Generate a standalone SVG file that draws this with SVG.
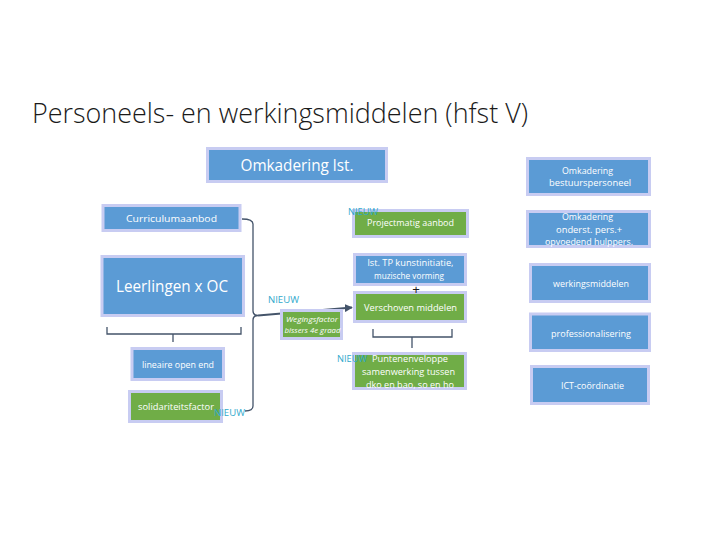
<svg xmlns="http://www.w3.org/2000/svg" width="720" height="540" viewBox="0 0 720 540">
<defs>
<marker id="arr" viewBox="0 0 10 10" refX="9" refY="5" markerWidth="4" markerHeight="4" orient="auto" markerUnits="strokeWidth">
<path d="M0,0 L10,5 L0,10 z" fill="#44546a"/>
</marker>
<style>
.b{fill:#5b9bd5;stroke:#c8ccf2;stroke-width:3}
.g{fill:#70ad47;stroke:#c8ccf2;stroke-width:3}
.t{font-family:"Open Sans","Noto Sans",sans-serif;fill:#ffffff;text-anchor:middle}
.s{font-size:9.5px}
.m{font-size:16px}
.n{font-family:"Open Sans","Noto Sans",sans-serif;font-size:9px;fill:#2fa9cc}
.c{fill:none;stroke:#44546a;stroke-width:1.3}
</style>
</defs>
<rect width="720" height="540" fill="#ffffff"/>
<g id="title">
<text x="32" y="123" font-family="Open Sans, Noto Sans, sans-serif" font-size="27" font-weight="300" fill="#1a1a1a" textLength="496" lengthAdjust="spacingAndGlyphs">Personeels- en werkingsmiddelen (hfst V)</text>
</g>
<g id="connectors">
<path class="c" d="M242,219 Q253,219 253,224 V311 Q253,315.5 258,315.5 Q253,315.5 253,320 V406 Q253,411 245,411"/>
<line x1="258" y1="315.5" x2="352" y2="307.5" stroke="#44546a" stroke-width="2" marker-end="url(#arr)"/>
<path class="c" d="M107,327 V334 H241 V327 M173,334 V342"/>
<path class="c" d="M373,329 V337 H452 V329 M412,337 V348"/>
</g>
<g id="omkadering-lst">
<rect class="b" x="207.5" y="148.5" width="179" height="33"/>
<text class="t m" x="297" y="171" textLength="113" lengthAdjust="spacingAndGlyphs">Omkadering lst.</text>
</g>
<g id="curriculumaanbod">
<rect class="b" x="103" y="205.5" width="137" height="25"/>
<text class="t s" x="171.5" y="221.5" textLength="91" lengthAdjust="spacingAndGlyphs">Curriculumaanbod</text>
</g>
<g id="leerlingen">
<rect class="b" x="102" y="256.5" width="141.5" height="59"/>
<text class="t m" x="172" y="292" textLength="112" lengthAdjust="spacingAndGlyphs">Leerlingen x OC</text>
</g>
<g id="lineaire">
<rect class="b" x="132" y="348.5" width="91.5" height="31"/>
<text class="t s" x="178" y="367.5" textLength="72" lengthAdjust="spacingAndGlyphs">lineaire open end</text>
</g>
<g id="solidariteitsfactor">
<rect class="g" x="129.5" y="391.5" width="92" height="30"/>
<text class="t s" x="176" y="410" textLength="76" lengthAdjust="spacingAndGlyphs">solidariteitsfactor</text>
</g>
<g id="wegingsfactor">
<rect class="g" x="281.5" y="310.5" width="60" height="28"/>
<text class="t" x="312" y="322" font-size="8" font-style="italic" textLength="52" lengthAdjust="spacingAndGlyphs">Wegingsfactor</text>
<text class="t" x="312.5" y="332.5" font-size="8" font-style="italic" textLength="56" lengthAdjust="spacingAndGlyphs">bissers 4e graad</text>
</g>
<g id="projectmatig">
<rect class="g" x="353.5" y="210.5" width="114" height="26"/>
<text class="t s" x="410.5" y="226" textLength="87" lengthAdjust="spacingAndGlyphs">Projectmatig aanbod</text>
</g>
<g id="kunstinitiatie">
<rect class="b" x="354.5" y="254.5" width="111" height="30"/>
<text class="t s" x="410.5" y="266" textLength="86" lengthAdjust="spacingAndGlyphs">lst. TP kunstinitiatie,</text>
<text class="t s" x="409" y="278.5" textLength="70" lengthAdjust="spacingAndGlyphs">muzische vorming</text>
</g>
<g id="verschoven">
<rect class="g" x="354.5" y="292.5" width="111" height="29"/>
<text class="t s" x="410.5" y="310.5" textLength="93" lengthAdjust="spacingAndGlyphs">Verschoven middelen</text>
</g>
<g id="plus">
<text x="416" y="294" font-family="Liberation Sans, sans-serif" font-size="13" fill="#1a1a1a" text-anchor="middle">+</text>
</g>
<g id="puntenenveloppe">
<rect class="g" x="353.5" y="353.5" width="112" height="35"/>
<text class="t s" x="410" y="362" textLength="76" lengthAdjust="spacingAndGlyphs">Puntenenveloppe</text>
<text class="t s" x="408.5" y="374.5" textLength="93" lengthAdjust="spacingAndGlyphs">samenwerking tussen</text>
<text class="t s" x="410" y="388" textLength="88" lengthAdjust="spacingAndGlyphs">dko en bao, so en ho</text>
</g>
<g id="nieuw-labels">
<text class="n" x="348" y="214.5" textLength="30" lengthAdjust="spacingAndGlyphs">NIEUW</text>
<text class="n" x="268" y="303" textLength="31" lengthAdjust="spacingAndGlyphs">NIEUW</text>
<text class="n" x="337" y="362" textLength="30" lengthAdjust="spacingAndGlyphs">NIEUW</text>
<text class="n" x="214" y="415.5" textLength="31" lengthAdjust="spacingAndGlyphs">NIEUW</text>
</g>
<g id="bestuurspersoneel">
<rect class="b" x="527.5" y="158.5" width="122" height="36"/>
<text class="t s" x="587.5" y="174" textLength="51" lengthAdjust="spacingAndGlyphs">Omkadering</text>
<text class="t s" x="590" y="186" textLength="82" lengthAdjust="spacingAndGlyphs">bestuurspersoneel</text>
</g>
<g id="ondersteunend">
<rect class="b" x="527.5" y="211.5" width="122" height="35"/>
<text class="t s" x="587.5" y="220" textLength="51" lengthAdjust="spacingAndGlyphs">Omkadering</text>
<text class="t s" x="589" y="232.5" textLength="66" lengthAdjust="spacingAndGlyphs">onderst. pers.+</text>
<text class="t s" x="589" y="245" textLength="88" lengthAdjust="spacingAndGlyphs">opvoedend hulppers.</text>
</g>
<g id="werkingsmiddelen">
<rect class="b" x="530.5" y="264.5" width="119" height="37"/>
<text class="t s" x="591" y="287" textLength="76" lengthAdjust="spacingAndGlyphs">werkingsmiddelen</text>
</g>
<g id="professionalisering">
<rect class="b" x="530.5" y="314" width="119" height="36.5"/>
<text class="t s" x="591" y="336.5" textLength="80" lengthAdjust="spacingAndGlyphs">professionalisering</text>
</g>
<g id="ict">
<rect class="b" x="531.5" y="366.5" width="117" height="37"/>
<text class="t s" x="592.5" y="389" textLength="63" lengthAdjust="spacingAndGlyphs">ICT-coördinatie</text>
</g>
</svg>
